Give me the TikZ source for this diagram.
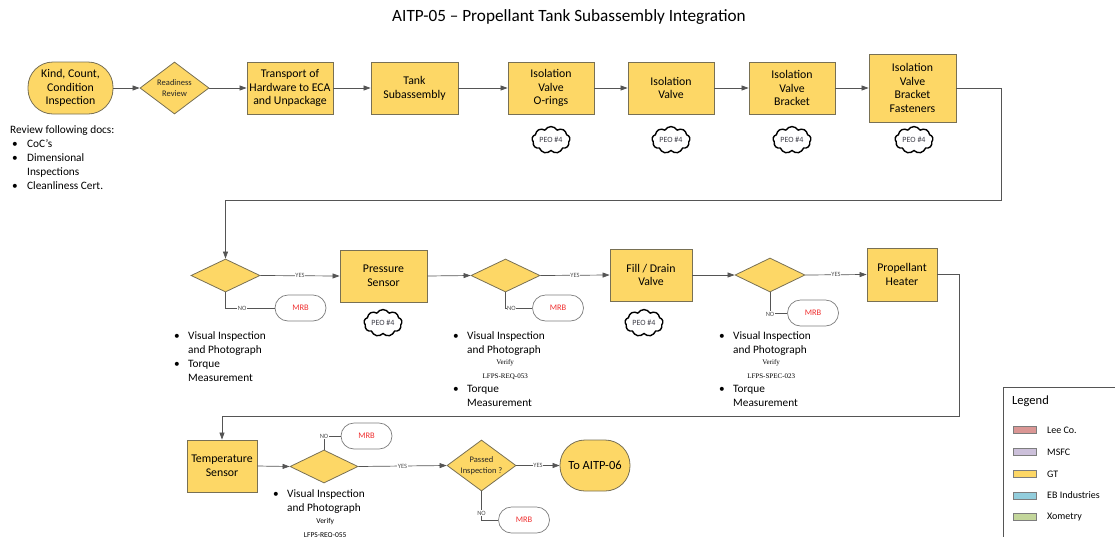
\documentclass[tikz,border=0pt]{standalone}
\usepackage{fontspec}
\setmainfont{Carlito}
\newfontfamily\smallserif{Liberation Serif}
\usetikzlibrary{shapes.geometric,shapes.symbols,arrows.meta}

\definecolor{gtfill}{RGB}{253,215,102}
\definecolor{boxline}{RGB}{120,112,84}
\definecolor{lineclr}{RGB}{85,85,85}
\definecolor{mrbline}{RGB}{125,125,125}
\definecolor{mrbred}{RGB}{240,50,50}
\definecolor{yntext}{RGB}{80,80,80}
\definecolor{peotext}{RGB}{60,60,70}
\definecolor{leefill}{RGB}{218,150,148}
\definecolor{msfcfill}{RGB}{204,192,218}
\definecolor{ebfill}{RGB}{146,205,220}
\definecolor{xomfill}{RGB}{195,214,155}

% bullet marker and continuation indent for the inspection notes
\newcommand{\bmark}{\makebox[14pt][l]{\textbullet}}
\newcommand{\bcont}{\hspace*{14pt}}
\newcommand{\verifyline}[1]{\hspace*{14pt}\makebox[76pt]{#1}}

\begin{document}
\begin{tikzpicture}[x=1pt,y=-1pt,
  box/.style={draw=boxline, fill=gtfill, line width=0.8pt, minimum width=86pt,
    minimum height=52pt, align=center, inner sep=2pt,
    font=\fontsize{11.8}{13.8}\selectfont},
  term/.style={box, rounded corners=25pt},
  dia/.style={diamond, draw=boxline, fill=gtfill, line width=0.8pt,
    minimum width=69pt, minimum height=33pt, inner sep=0pt},
  dtext/.style={align=center, inner sep=0pt, text=black!85,
    font=\fontsize{8.5}{11.5}\selectfont},
  mrb/.style={draw=mrbline, fill=white, line width=0.7pt, rounded corners=13pt,
    minimum width=51pt, minimum height=26pt, text=mrbred,
    font=\fontsize{8.5}{9}\selectfont},
  peo/.style={cloud, cloud puffs=9, cloud puff arc=120, aspect=1.5, draw=black,
    line width=1.4pt, minimum width=38pt, minimum height=24pt, inner sep=0pt,
    text=peotext, font=\fontsize{8}{9}\selectfont},
  yn/.style={fill=white, inner sep=0.6pt, text=yntext,
    font=\fontsize{6.5}{7}\selectfont},
  flow/.style={draw=lineclr, line width=0.7pt},
  arr/.style={flow, -{Triangle[length=7pt,width=5pt]}},
  note/.style={anchor=north west, align=left, inner sep=0pt,
    font=\fontsize{11.3}{14}\selectfont},
  swatch/.style={draw=mrbline, line width=0.6pt, minimum width=23pt,
    minimum height=7pt, inner sep=0pt},
  legtext/.style={anchor=west, inner sep=0pt, font=\fontsize{10}{12}\selectfont}
]
\useasboundingbox (0,0) rectangle (1115,536);

% title
\node[font=\fontsize{17.2}{20}\selectfont] (title) at (569,17)
  {AITP-05 – Propellant Tank Subassembly Integration};

% ---------- first row ----------
\node[term, minimum width=85pt] (kind) at (70.5,88) {Kind, Count,\\Condition\\Inspection};
\node[dia, minimum height=52pt] (ready) at (174.5,88) {};
\node[dtext] at (ready) {Readiness\\Review};
\node[box] (transport) at (290,88) {Transport of\\Hardware to ECA\\and Unpackage};
\node[box, minimum width=87pt] (tank) at (414.5,88) {Tank\\Subassembly};
\node[box] (oring) at (551,88) {Isolation\\Valve\\O-rings};
\node[box] (ivalve) at (671,88) {Isolation\\Valve};
\node[box] (ibracket) at (792,88) {Isolation\\Valve\\Bracket};
\node[box, minimum width=87pt, minimum height=68pt] (ifast) at (912.5,88)
  {Isolation\\Valve\\Bracket\\Fasteners};

\node[peo] (peo1) at (551,140) {PEO \#4};
\node[peo] (peo2) at (671,140) {PEO \#4};
\node[peo] (peo3) at (792,140) {PEO \#4};
\node[peo] (peo4) at (914,140) {PEO \#4};

\draw[arr] (kind) -- (ready);
\draw[arr] (ready) -- (transport);
\draw[arr] (transport) -- (tank);
\draw[arr] (tank) -- (oring);
\draw[arr] (oring) -- (ivalve);
\draw[arr] (ivalve) -- (ibracket);
\draw[arr] (ibracket) -- (ifast);

\node[note] (docs) at (10,125) {Review following docs:\\
  \hspace*{2pt}\makebox[15pt][l]{\textbullet}CoC’s\\
  \hspace*{2pt}\makebox[15pt][l]{\textbullet}Dimensional\\
  \hspace*{17pt}Inspections\\
  \hspace*{2pt}\makebox[15pt][l]{\textbullet}Cleanliness Cert.};

% ---------- second row ----------
\node[dia] (d1) at (225.5,275.5) {};
\node[box, minimum width=87pt] (press) at (383.5,276) {Pressure\\Sensor};
\node[dia] (d2) at (505.5,275.5) {};
\node[box, minimum width=82pt] (fill) at (651,275) {Fill / Drain\\Valve};
\node[dia, minimum width=70pt, minimum height=34pt] (d3) at (770,275) {};
\node[box, minimum width=70pt, minimum height=53pt] (heater) at (902,274.5)
  {Propellant\\Heater};

\node[peo] (peo5) at (383,323) {PEO \#4};
\node[peo] (peo6) at (644,323) {PEO \#4};

\node[mrb] (mrb1) at (300.5,308) {MRB};
\node[mrb] (mrb2) at (558,308) {MRB};
\node[mrb] (mrb3) at (813,313) {MRB};

\coordinate (turn1) at (1001,200);
\draw[arr] (ifast.east) -| (turn1) -| (d1.north);

\draw[arr] (d1.east) -- node[yn]{YES} (press.west);
\draw[arr] (press.east) -- (d2.west);
\draw[arr] (d2.east) -- node[yn]{YES} (fill.west);
\draw[arr] (fill.east) -- (d3.west);
\draw[arr] (d3.east) -- node[yn]{YES} (heater.west);

\draw[flow] (d1.south) |- node[yn, pos=0.67]{NO} (mrb1.west);
\draw[flow] (d2.south) |- node[yn, pos=0.61]{NO} (mrb2.west);
\draw[flow] (d3.south) |- node[yn, pos=0.5, yshift=-1pt]{NO} (mrb3.west);

\node[note] (notes1) at (174,331) {\bmark Visual Inspection\\
  \bcont and Photograph\\
  \bmark Torque\\
  \bcont Measurement};
\node[note] (notes2) at (453,331) {\bmark Visual Inspection\\
  \bcont and Photograph\\[-3pt]
  \verifyline{\smallserif\fontsize{7}{8}\selectfont Verify}\\
  \verifyline{\smallserif\fontsize{7}{8}\selectfont LFPS-REQ-053}\\
  \bmark Torque\\
  \bcont Measurement};
\node[note] (notes3) at (719,331) {\bmark Visual Inspection\\
  \bcont and Photograph\\[-3pt]
  \verifyline{\smallserif\fontsize{7}{8}\selectfont Verify}\\
  \verifyline{\smallserif\fontsize{7}{8}\selectfont LFPS-SPEC-023}\\
  \bmark Torque\\
  \bcont Measurement};

% ---------- third row ----------
\node[box, minimum width=70pt] (temp) at (222,466) {Temperature\\Sensor};
\node[dia, minimum width=68pt] (d4) at (324,466.5) {};
\node[dia, minimum height=51pt] (d5) at (481.5,465.5) {};
\node[dtext] at (d5) {Passed\\Inspection ?};
\node[term, minimum width=70pt, minimum height=51pt] (next) at (595,465.5)
  {\fontsize{12.5}{14}\selectfont To AITP-06};

\node[mrb] (mrb4) at (366.5,436) {MRB};
\node[mrb] (mrb5) at (524,520) {MRB};

\coordinate (turn2) at (959,416);
\draw[arr] (heater.east) -| (turn2) -| (temp.north);

\draw[arr] (temp.east) -- (d4.west);
\draw[arr] (d4.east) -- node[yn]{YES} (d5.west);
\draw[arr] (d5.east) -- node[yn]{YES} (next.west);
\draw[flow] (d4.north) |- node[yn, pos=0.5]{NO} (mrb4.west);
\draw[flow] (d5.south) |- node[yn, pos=0.38]{NO} (mrb5.west);

\node[note] (notes4) at (273,489) {\bmark Visual Inspection\\
  \bcont and Photograph\\[-2pt]
  \verifyline{\fontsize{7.5}{8}\selectfont Verify}\\
  \verifyline{\fontsize{7.5}{8}\selectfont LFPS-REQ-055}};

% ---------- legend ----------
\draw[draw=lineclr, line width=0.7pt] (1003,545) -- (1003,387) -- (1125,387);
\node[anchor=west, inner sep=0pt, font=\fontsize{12.5}{14}\selectfont] (legend) at (1012,401) {Legend};
\node[swatch, fill=leefill] (s1) at (1024.5,430) {};
\node[swatch, fill=msfcfill] (s2) at (1024.5,452) {};
\node[swatch, fill=gtfill] (s3) at (1024.5,474) {};
\node[swatch, fill=ebfill] (s4) at (1024.5,495.5) {};
\node[swatch, fill=xomfill] (s5) at (1024.5,517) {};
\node[legtext] at (1047,430) {Lee Co.};
\node[legtext] at (1047,452) {MSFC};
\node[legtext] at (1047,474) {GT};
\node[legtext] at (1047,495.5) {EB Industries};
\node[legtext] at (1047,517) {Xometry};
\end{tikzpicture}
\end{document}
